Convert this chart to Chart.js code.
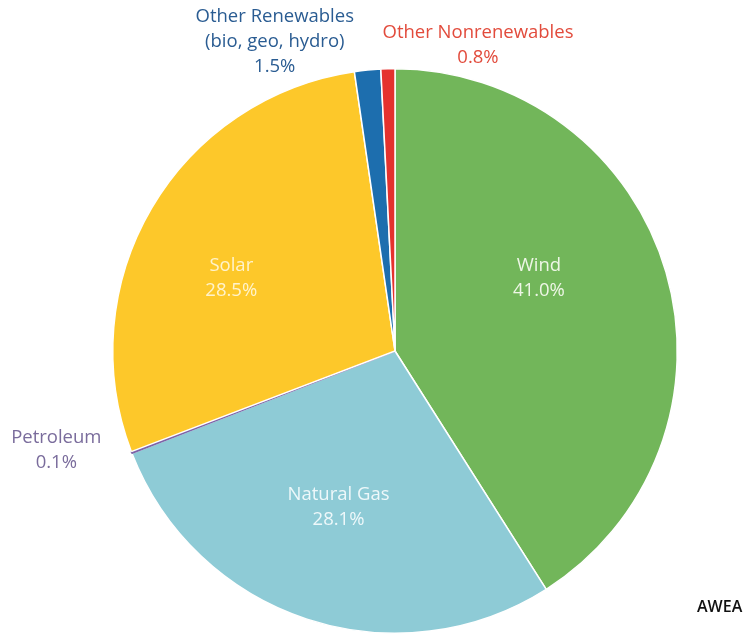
<!DOCTYPE html>
<html>
<head>
<meta charset="utf-8">
<script src="https://cdn.jsdelivr.net/npm/chart.js@4/dist/chart.umd.min.js"></script>
<style>
  body { margin: 0; background: #fff; }
  #wrap { position: relative; width: 748px; height: 635px; }
</style>
</head>
<body>
<div id="wrap"><canvas id="myChart" width="748" height="635"></canvas></div>
<script>
// Data, clockwise from 12 o'clock
const sources = ["Wind", "Natural Gas", "Petroleum", "Solar", "Other Renewables", "Other Nonrenewables"];
const shares = [41.0, 28.1, 0.1, 28.5, 1.5, 0.8];
const sliceColors = ["#72b65a", "#8ecbd6", "#7d63a8", "#fdc82a", "#1d6eae", "#e5322e"];

// label text for each slice (lines)
const labelLines = [
  ["Wind", "41.0%"],
  ["Natural Gas", "28.1%"],
  ["Petroleum", "0.1%"],
  ["Solar", "28.5%"],
  ["Other Renewables", "(bio, geo, hydro)", "1.5%"],
  ["Other Nonrenewables", "0.8%"]
];

// where each label sits, as offset from pie centre (in units of radius) and text colour
const labelStyle = [
  { dx: 0.51, dy: -0.257, color: "#eef6e6" },
  { dx: -0.20, dy: 0.553, color: "#eef8fa" },
  { dx: -1.20, dy: 0.353, color: "#7a6c9c" },
  { dx: -0.58, dy: -0.257, color: "#fff3cc" },
  { dx: -0.426, dy: -1.096, color: "#2a5c92" },
  { dx: 0.294, dy: -1.083, color: "#e24b3c" }
];

const sliceLabels = {
  id: 'sliceLabels',
  afterDatasetsDraw(chart) {
    const ctx = chart.ctx;
    const arc = chart.getDatasetMeta(0).data[0];
    const cx = arc.x, cy = arc.y, r = arc.outerRadius;
    ctx.save();
    ctx.font = '18.5px "Open Sans", sans-serif';
    ctx.textAlign = 'center';
    ctx.textBaseline = 'middle';
    labelLines.forEach((lines, i) => {
      const st = labelStyle[i];
      const x = cx + st.dx * r;
      const y0 = cy + st.dy * r - (lines.length - 1) * 12.5;
      ctx.fillStyle = st.color;
      lines.forEach((t, j) => ctx.fillText(t, x, y0 + j * 25));
    });
    // source note
    ctx.fillStyle = '#111';
    ctx.font = '600 16px "Open Sans", sans-serif';
    ctx.textAlign = 'left';
    ctx.fillText('AWEA', 697, 607);
    ctx.restore();
  }
};

const ctx = document.getElementById('myChart').getContext('2d');
const myChart = new Chart(ctx, {
  type: 'pie',
  data: {
    labels: sources,
    datasets: [{
      data: shares,
      backgroundColor: sliceColors,
      borderColor: ["#fff", "#fff", "#7d63a8", "#fff", "#fff", "#fff"],
      borderWidth: 1.5
    }]
  },
  options: {
    responsive: false,
    animation: false,
    layout: { padding: { top: 68, bottom: 1, left: 112, right: 70 } },
    plugins: {
      legend: { display: false },
      tooltip: { enabled: false }
    }
  },
  plugins: [sliceLabels]
});
</script>
</body>
</html>
